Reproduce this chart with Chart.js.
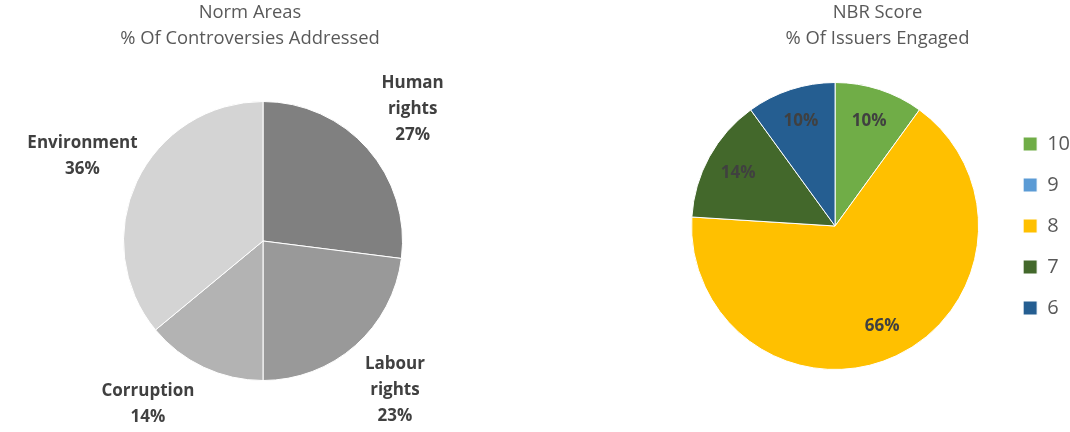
<!DOCTYPE html>
<html>
<head>
<meta charset="utf-8">
<script src="https://cdn.jsdelivr.net/npm/chart.js@4.4.1/dist/chart.umd.min.js"></script>
<style>
  html, body { margin: 0; padding: 0; background: #fff; }
  #wrap { position: relative; width: 1070px; height: 432px; }
  .box { position: absolute; top: 0; height: 432px; width: 535px; }
  #left { left: 0; }
  #right { left: 535px; }
</style>
</head>
<body>
<div id="wrap">
  <div class="box" id="left"><canvas id="normChart"></canvas></div>
  <div class="box" id="right"><canvas id="nbrChart"></canvas></div>
</div>
<script>
// Norm areas, % of controversies addressed
const normLabels = ['Human rights', 'Labour rights', 'Corruption', 'Environment'];
const normValues = [27, 23, 14, 36];
const normColors = ['#808080', '#999999', '#b3b3b3', '#d4d4d4'];

// NBR score, % of issuers engaged
const nbrLabels = ['10', '9', '8', '7', '6'];
const nbrValues = [10, 0, 66, 14, 10];
const nbrColors = ['#70ad47', '#5b9bd5', '#ffc000', '#43682b', '#255e91'];

Chart.defaults.font.family = '"Open Sans", sans-serif';

// Draws the percentage labels (and names, for the left chart) around each slice
const sliceLabels = {
    id: 'sliceLabels',
    afterDatasetsDraw(chart, args, opts) {
        const ctx = chart.ctx;
        const meta = chart.getDatasetMeta(0);
        const values = chart.data.datasets[0].data;
        const total = values.reduce((a, b) => a + b, 0);
        ctx.save();
        ctx.font = 'bold 17px "Open Sans"';
        ctx.fillStyle = '#404040';
        ctx.textAlign = 'center';
        ctx.textBaseline = 'middle';
        meta.data.forEach((arc, i) => {
            const v = values[i];
            if (!v) return;
            const p = arc.getProps(['x', 'y', 'startAngle', 'endAngle', 'outerRadius'], true);
            const mid = (p.startAngle + p.endAngle) / 2;
            const dist = p.outerRadius * opts.factor;
            const lines = opts.showName ? chart.data.labels[i].split(' ') : [];
            lines.push(Math.round(v / total * 100) + '%');
            const h = lines.length * opts.lineHeight;
            let cx = p.x + Math.cos(mid) * dist;
            let cy = p.y + Math.sin(mid) * dist;
            // keep the label inside the canvas by sliding it round the circle
            const maxY = chart.height - h / 2 - 2;
            if (cy > maxY) {
                const a = Math.acos((maxY - p.y) / dist);
                cx = p.x + Math.sign(cx - p.x) * Math.sin(a) * dist;
                cy = maxY;
            }
            lines.forEach((t, k) => {
                ctx.fillText(t, cx, cy - h / 2 + opts.lineHeight * (k + 0.5));
            });
        });
        ctx.restore();
    }
};

// Nudges the title sideways, off the pie's centre line
const titleShift = {
    id: 'titleShift',
    afterLayout(chart, args, opts) {
        const t = chart.titleBlock;
        if (t && opts.dx) {
            t.left += opts.dx;
            t.right += opts.dx;
        }
    }
};

function titleOptions(lines, bottom) {
    return {
        display: true,
        text: lines,
        color: '#595959',
        font: { size: 18.4, weight: 'normal', lineHeight: '26px' },
        padding: { top: 0, bottom: bottom }
    };
}

new Chart(document.getElementById('normChart'), {
    type: 'pie',
    data: {
        labels: normLabels,
        datasets: [{
            data: normValues,
            backgroundColor: normColors,
            borderColor: '#ffffff',
            borderWidth: 1
        }]
    },
    options: {
        responsive: true,
        maintainAspectRatio: false,
        animation: false,
        layout: { padding: { left: 100, right: 109, top: 0, bottom: 51 } },
        plugins: {
            legend: { display: false },
            tooltip: { enabled: false },
            title: titleOptions(['Norm Areas', '% Of Controversies Addressed'], 49),
            titleShift: { dx: -13 },
            sliceLabels: { factor: 1.43, lineHeight: 26, showName: true }
        }
    },
    plugins: [sliceLabels, titleShift]
});

new Chart(document.getElementById('nbrChart'), {
    type: 'pie',
    data: {
        labels: nbrLabels,
        datasets: [{
            data: nbrValues,
            backgroundColor: nbrColors,
            borderColor: '#ffffff',
            borderWidth: 1
        }]
    },
    options: {
        responsive: true,
        maintainAspectRatio: false,
        animation: false,
        layout: { padding: { left: 133, right: -10, top: 0, bottom: 62 } },
        plugins: {
            legend: {
                position: 'right',
                fullSize: false,
                labels: {
                    boxWidth: 14,
                    boxHeight: 14,
                    padding: 21,
                    color: '#595959',
                    font: { size: 20 }
                }
            },
            tooltip: { enabled: false },
            title: titleOptions(['NBR Score', '% Of Issuers Engaged'], 30),
            titleShift: { dx: 3.5 },
            sliceLabels: { factor: 0.77, lineHeight: 26, showName: false }
        }
    },
    plugins: [sliceLabels, titleShift]
});
</script>
</body>
</html>
